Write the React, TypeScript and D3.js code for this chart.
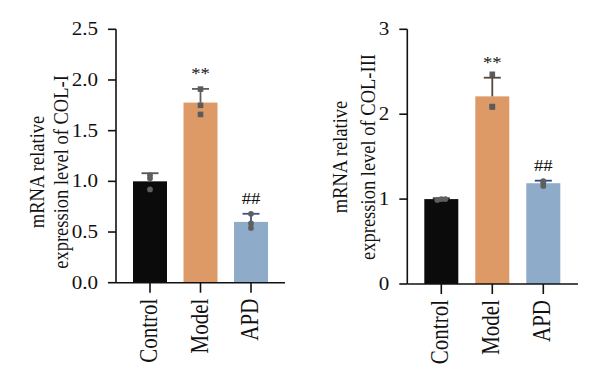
import React from "react";
import * as d3 from "d3";

const categories = ["Control", "Model", "APD"];
const barColors = ["#0b0b0b", "#dd9a66", "#8eabca"];

// COL-I
const col1Means = [1.0, 1.777, 0.6];
const col1Err = [0.08, 0.135, 0.08];
const col1Points = [[1.06, 1.03, 0.92], [1.91, 1.75, 1.66], [0.68, 0.585, 0.54]];
const col1Marks = ["", "**", "##"];
const col1Ticks = [0, 0.5, 1.0, 1.5, 2.0, 2.5];
const col1ErrColors = ["#555555", "#5e5e5e", "#3b5686"];

// COL-III
const col3Means = [1.0, 2.21, 1.187];
const col3Err = [0.01, 0.22, 0.03];
const col3Points = [[0.99, 1.0, 1.0], [2.47, 2.085, 2.09], [1.21, 1.19, 1.155]];
const col3Marks = ["", "**", "##"];
const col3Ticks = [0, 1, 2, 3];
const col3ErrColors = ["#333333", "#5a4838", "#2c4a80"];

const FONT = "'Liberation Serif', 'Times New Roman', serif";
const SX = 1.17; // horizontal stretch of the original figure

type PanelProps = {
  axisX: number;
  axisRight: number;
  y0: number;
  yTop: number;
  yMax: number;
  centers: [number, number];
  ticks: number[];
  tickFmt: (v: number) => string;
  means: number[];
  errs: number[];
  points: number[][];
  marks: string[];
  errColors: string[];
  title2: string;
  titleX1: number;
  titleX2: number;
  titleY: number;
  markerShapes: string[];
};

function Panel(p: PanelProps) {
  const y = d3.scaleLinear().domain([0, p.yMax]).range([p.y0, p.yTop]);
  const x = d3.scalePoint<string>().domain(categories).range(p.centers);
  const bw = 34;
  const cap = 8.5;
  return (
    <g>
      {categories.map((c, i) => (
        <rect
          key={"b" + c}
          x={(x(c) as number) - bw / 2}
          y={y(p.means[i])}
          width={bw}
          height={p.y0 - y(p.means[i])}
          fill={barColors[i]}
        />
      ))}
      {categories.map((c, i) => {
        const cx = x(c) as number;
        const top = y(p.means[i] + p.errs[i]);
        return (
          <g key={"e" + c} stroke={p.errColors[i]} strokeWidth={1.8}>
            <line x1={cx} x2={cx} y1={y(p.means[i])} y2={top} />
            <line x1={cx - cap} x2={cx + cap} y1={top} y2={top} />
          </g>
        );
      })}
      {categories.map((c, i) =>
        p.points[i].map((v, j) => {
          const cx = x(c) as number;
          const cy = y(v);
          if (p.markerShapes[i] === "square") {
            return (
              <rect key={"p" + c + j} x={cx - 2.8} y={cy - 2.8} width={5.6} height={5.6} fill="#5b5b5b" />
            );
          }
          const off = p.markerShapes[i] === "spread" ? (j - 1) * 4 : 0;
          return <circle key={"p" + c + j} cx={cx + off} cy={cy} r={2.9} fill="#5f5f5f" />;
        })
      )}
      {categories.map((c, i) =>
        p.marks[i] ? (
          <text
            key={"m" + c}
            transform={`translate(${x(c) as number},${y(p.means[i] + p.errs[i]) - 10}) scale(${SX},1)`}
            textAnchor="middle"
            fontFamily={FONT}
            fontSize={16}
            fill="#111"
          >
            {p.marks[i]}
          </text>
        ) : null
      )}
      <line x1={p.axisX} x2={p.axisX} y1={p.yTop} y2={p.y0} stroke="#111" strokeWidth={1.6} />
      {p.ticks.map((t) => (
        <g key={"t" + t}>
          <line x1={p.axisX - 8} x2={p.axisX} y1={y(t)} y2={y(t)} stroke="#111" strokeWidth={1.6} />
          <text
            transform={`translate(${p.axisX - 18},${y(t)}) scale(${SX},1)`}
            dy="0.34em"
            textAnchor="end"
            fontFamily={FONT}
            fontSize={18}
            fill="#111"
          >
            {p.tickFmt(t)}
          </text>
        </g>
      ))}
      <line x1={p.axisX} x2={p.axisRight} y1={p.y0} y2={p.y0} stroke="#111" strokeWidth={1.6} />
      {categories.map((c) => (
        <g key={"x" + c}>
          <line
            x1={x(c) as number}
            x2={x(c) as number}
            y1={p.y0}
            y2={p.y0 + 10}
            stroke="#111"
            strokeWidth={1.6}
          />
          <text
            transform={`translate(${(x(c) as number) + 7},${p.y0 + 16}) scale(${SX},1) rotate(-90)`}
            textAnchor="end"
            fontFamily={FONT}
            fontSize={21}
            fill="#111"
          >
            {c}
          </text>
        </g>
      ))}
      <text
        transform={`translate(${p.titleX1},${p.titleY}) scale(${SX},1) rotate(-90)`}
        textAnchor="middle"
        fontFamily={FONT}
        fontSize={18.5}
        fill="#111"
      >
        mRNA relative
      </text>
      <text
        transform={`translate(${p.titleX2},${p.titleY}) scale(${SX},1) rotate(-90)`}
        textAnchor="middle"
        fontFamily={FONT}
        fontSize={18.5}
        fill="#111"
      >
        {p.title2}
      </text>
    </g>
  );
}

export default function App() {
  return (
    <svg
      width={600}
      height={389}
      style={{ position: "absolute", left: 0, top: 0, background: "#fff" }}
    >
      <rect width={600} height={389} fill="#fff" />
      <Panel
        axisX={116}
        axisRight={285}
        y0={282.7}
        yTop={29.3}
        yMax={2.5}
        centers={[150, 251]}
        ticks={col1Ticks}
        tickFmt={(v) => v.toFixed(1)}
        means={col1Means}
        errs={col1Err}
        points={col1Points}
        marks={col1Marks}
        errColors={col1ErrColors}
        title2="expression level of COL-I"
        titleX1={44}
        titleX2={68}
        titleY={172}
        markerShapes={["circle", "square", "circle"]}
      />
      <Panel
        axisX={407.3}
        axisRight={578}
        y0={284}
        yTop={29.3}
        yMax={3}
        centers={[441.3, 543.3]}
        ticks={col3Ticks}
        tickFmt={(v) => String(v)}
        means={col3Means}
        errs={col3Err}
        points={col3Points}
        marks={col3Marks}
        errColors={col3ErrColors}
        title2="expression level of COL-III"
        titleX1={347}
        titleX2={375}
        titleY={157}
        markerShapes={["spread", "square", "circle"]}
      />
    </svg>
  );
}
